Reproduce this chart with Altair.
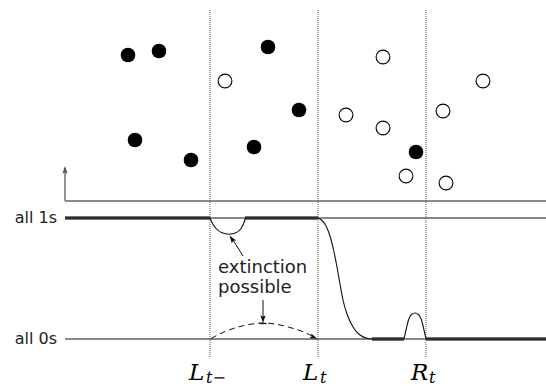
import altair as alt
import pandas as pd

W, H = 546, 386

# ---- particles (pixel-space positions) ----
filled_x = [128, 159, 135, 191, 268, 299, 254, 416]
filled_y = [55, 51, 140, 160, 47, 110, 147, 152]
open_x = [225, 383, 346, 383, 406, 446, 443, 483]
open_y = [81, 57, 115, 128, 176, 183, 111, 81]

# ---- vertical dotted dividers ----
divider_x = [210, 318, 426]
divider_top = [10, 10, 10]
divider_bottom = [357, 357, 357]

# ---- axis ----
axis_x = [65]
axis_x2 = [546]
axis_y = [201]
axis_arrow_top = [168]

# ---- state levels ----
level_names = ["all 1s", "all 0s"]
level_y = [218, 339]
level_label_x = [57, 57]

# ---- thick segments on the levels ----
seg_x = [65, 245, 372, 426]
seg_x2 = [210, 318, 404, 546]
seg_y = [218, 218, 339, 339]

# ---- curves ----
dip_x = [210, 212, 216, 222, 229, 236, 241, 244, 245.5]
dip_y = [218, 222.5, 228.5, 232.8, 234.2, 232.8, 228.5, 222.5, 218]
sig_x = [318, 322, 326, 330, 334, 337, 340, 343, 347, 353, 360, 367, 372]
sig_y = [218, 220.5, 226, 236, 252, 267, 284, 300, 314, 327, 335, 338.3, 339]
bump_x = [404, 406, 408.5, 411.5, 415, 418.5, 421.5, 424, 426]
bump_y = [339, 330, 320, 314.5, 313, 314.5, 320, 330, 339]
arc_x = [211, 225, 240, 252, 263, 275, 290, 305, 315]
arc_y = [338.5, 331.5, 326.5, 324, 323, 324, 327.5, 332.5, 337.5]

# ---- annotation arrows ----
ann_x = [243, 263]
ann_y = [256, 300]
ann_x2 = [233, 263]
ann_y2 = [240, 317]
head_x = [229.5, 263, 317.5, 65]
head_y = [235.5, 323, 338.8, 166]
head_angle = [325, 180, 112, 0]
head_color = ["#111", "#111", "#111", "#555"]
tee_x = [259.5]
tee_x2 = [266.5]
tee_y = [323.5]

# ---- text ----
note_lines = ["extinction", "possible"]
note_x = [218, 218]
note_y = [273, 293]
math_main = ["L", "L", "R"]
math_main_x = [189, 303, 411]
math_sub = ["t\u2212", "t", "t"]
math_sub_x = [206, 320, 429]

xs = alt.Scale(domain=[0, W], range=[0, W], zero=False, nice=False)
ys = alt.Scale(domain=[0, H], range=[0, H], zero=False, nice=False)


def X(f="x"):
    return alt.X(f"{f}:Q", scale=xs, axis=None)


def Y(f="y"):
    return alt.Y(f"{f}:Q", scale=ys, axis=None)


dividers = alt.Chart(pd.DataFrame({"x": divider_x, "y": divider_top, "y2": divider_bottom})).mark_rule(
    stroke="#6e6e6e", strokeWidth=1.1, strokeDash=[1, 1]
).encode(x=X(), y=Y(), y2="y2:Q")

axis_h = alt.Chart(pd.DataFrame({"x": axis_x, "x2": axis_x2, "y": axis_y})).mark_rule(
    stroke="#666", strokeWidth=1.6
).encode(x=X(), x2="x2:Q", y=Y())
axis_v = alt.Chart(pd.DataFrame({"x": axis_x, "y": axis_y, "y2": axis_arrow_top})).mark_rule(
    stroke="#777", strokeWidth=1.6
).encode(x=X(), y=Y(), y2="y2:Q")

thick = alt.Chart(pd.DataFrame({"x": seg_x, "x2": seg_x2, "y": seg_y})).mark_rule(
    stroke="#4a4a4a", strokeWidth=3.6
).encode(x=X(), x2="x2:Q", y=Y())

levels = alt.Chart(pd.DataFrame({"y": level_y, "x": [65, 65], "x2": [546, 546]})).mark_rule(
    stroke="#111", strokeWidth=1
).encode(x=X(), x2="x2:Q", y=Y())

curve_rows = []
for name, cx, cy in [("dip", dip_x, dip_y), ("sig", sig_x, sig_y), ("bump", bump_x, bump_y)]:
    for i, (a, b) in enumerate(zip(cx, cy)):
        curve_rows.append({"x": a, "y": b, "c": name, "o": i})
curves = alt.Chart(pd.DataFrame(curve_rows)).mark_line(
    stroke="#111", strokeWidth=1.1, interpolate="monotone"
).encode(x=X(), y=Y(), detail="c:N", order="o:Q")

arc = alt.Chart(pd.DataFrame({"x": arc_x, "y": arc_y, "o": list(range(len(arc_x)))})).mark_line(
    stroke="#111", strokeWidth=1, strokeDash=[6, 4], interpolate="monotone"
).encode(x=X(), y=Y(), order="o:Q")

ann = alt.Chart(pd.DataFrame({"x": ann_x, "y": ann_y, "x2": ann_x2, "y2": ann_y2})).mark_rule(
    stroke="#111", strokeWidth=1
).encode(x=X(), y=Y(), x2="x2:Q", y2="y2:Q")

tee = alt.Chart(pd.DataFrame({"x": tee_x, "x2": tee_x2, "y": tee_y})).mark_rule(
    stroke="#111", strokeWidth=1.3
).encode(x=X(), x2="x2:Q", y=Y())

heads = alt.Chart(pd.DataFrame({"x": head_x, "y": head_y, "a": head_angle, "c": head_color})).mark_point(
    shape="M0,0L-0.5,1.5L0,1.2L0.5,1.5Z", filled=True, opacity=1, size=110
).encode(x=X(), y=Y(), angle=alt.Angle("a:Q", scale=None), color=alt.Color("c:N", scale=None))

filled_pts = alt.Chart(pd.DataFrame({"x": filled_x, "y": filled_y})).mark_point(
    shape="circle", filled=True, color="#000", opacity=1, size=215
).encode(x=X(), y=Y())

open_pts = alt.Chart(pd.DataFrame({"x": open_x, "y": open_y})).mark_point(
    shape="circle", filled=False, stroke="#000", fill="#fff", fillOpacity=1, strokeWidth=1.1, opacity=1, size=190
).encode(x=X(), y=Y())

level_text = alt.Chart(pd.DataFrame({"x": level_label_x, "y": level_y, "t": level_names})).mark_text(
    align="right", baseline="middle", font="DejaVu Sans", fontSize=16, color="#222"
).encode(x=X(), y=Y(), text="t:N")

note_text = alt.Chart(pd.DataFrame({"x": note_x, "y": note_y, "t": note_lines})).mark_text(
    align="left", baseline="alphabetic", font="DejaVu Sans", fontSize=18, color="#222"
).encode(x=X(), y=Y(), text="t:N")

math_text = alt.Chart(pd.DataFrame({"x": math_main_x, "y": [380] * 3, "t": math_main})).mark_text(
    align="left", baseline="alphabetic", font="DejaVu Serif", fontStyle="italic", fontSize=23, color="#000"
).encode(x=X(), y=Y(), text="t:N")

sub_text = alt.Chart(pd.DataFrame({"x": math_sub_x, "y": [383] * 3, "t": math_sub})).mark_text(
    align="left", baseline="alphabetic", font="DejaVu Serif", fontStyle="italic", fontSize=16, color="#000"
).encode(x=X(), y=Y(), text="t:N")

chart = alt.layer(
    dividers, axis_h, axis_v, thick, levels, curves, arc, ann, tee, heads,
    filled_pts, open_pts, level_text, note_text, math_text, sub_text
).properties(
    width=W, height=H, padding=0, autosize=alt.AutoSizeParams(type="none")
).configure_view(stroke=None)

chart.save("out.html", embed_options={"renderer": "svg", "actions": False})
